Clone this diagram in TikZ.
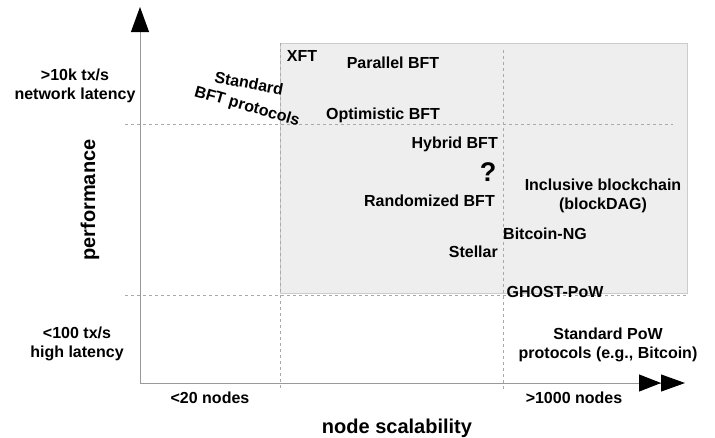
\documentclass[tikz,border=0pt]{standalone}
\usepackage{fontspec}
\setmainfont{Liberation Sans}
\usetikzlibrary{arrows.meta}
\definecolor{regionfill}{HTML}{EEEEEE}
\definecolor{regionedge}{HTML}{CCCCCC}
\definecolor{gridgray}{HTML}{AAAAAA}
\definecolor{axisgray}{HTML}{999999}
\tikzset{
  lbl/.style={font=\bfseries\fontsize{16}{19}\selectfont, inner sep=0pt, align=center},
  axlbl/.style={font=\bfseries\fontsize{20}{24}\selectfont, inner sep=0pt},
  griddash/.style={draw=gridgray, line width=0.8pt, dash pattern=on 3pt off 3pt},
  axisline/.style={draw=axisgray, line width=1pt},
}
\begin{document}
\begin{tikzpicture}[x=1pt,y=-1pt]
\useasboundingbox (0,0) rectangle (715,437);
% shaded region
\draw[fill=regionfill, draw=regionedge, line width=1pt] (280,43) rectangle (687,293);
% grid coordinates
\coordinate (h1a) at (125,124); \coordinate (h1b) at (673,124);
\coordinate (h2a) at (125,295); \coordinate (h2b) at (687,295);
\coordinate (v1a) at (280,43);  \coordinate (v1b) at (280,391);
\coordinate (v2a) at (503,50);  \coordinate (v2b) at (503,391);
\draw[griddash] (h1a) -- (h1b);
\draw[griddash] (h2a) -- (h2b);
\draw[griddash] (v1a) -- (v1b);
\draw[griddash] (v2a) -- (v2b);
% axes
\coordinate (origin) at (140,383);
\coordinate (ytip) at (140,7);
\coordinate (xtip) at (685,383);
\draw[axisline, -{Triangle[length=25pt,width=18pt,color=black]}] (origin) -- (ytip);
\draw[axisline, -{Triangle[length=22pt,width=17pt,color=black]Triangle[length=24pt,width=17pt,color=black]}] (origin) -- (xtip);
% axis labels
\node[axlbl, rotate=90] (perf) at (90,200) {performance};
\node[axlbl] (scal) at (397,428) {node scalability};
\node[lbl] (hiperf) at (75,86) {>10k tx/s\\network latency};
\node[lbl] (loperf) at (77,344) {<100 tx/s\\high latency};
\node[lbl] (few) at (210,398) {<20 nodes};
\node[lbl] (many) at (574,398) {>1000 nodes};
% protocols
\node[lbl, rotate=-11] (stdbfta) at (249,83) {Standard};
\node[lbl, rotate=-16] (stdbftb) at (247,107) {BFT protocols};
\node[lbl] (xft) at (302,56) {XFT};
\node[lbl] (par) at (393,63) {Parallel BFT};
\node[lbl] (opt) at (383,115) {Optimistic BFT};
\node[lbl, anchor=east] (hyb) at (498,144) {Hybrid BFT};
\node[font=\bfseries\fontsize{27}{30}\selectfont, inner sep=0pt] (q) at (488,172) {?};
\node[lbl, anchor=east] (rand) at (495,201) {Randomized BFT};
\node[lbl] (incl) at (603,196) {Inclusive blockchain\\(blockDAG)};
\node[lbl, anchor=west] (bng) at (503,234) {Bitcoin-NG};
\node[lbl, anchor=east] (stel) at (498,252) {Stellar};
\node[lbl] (ghost) at (555,292) {GHOST-PoW};
\node[lbl] (stdpow) at (608,345) {Standard PoW\\protocols (e.g., Bitcoin)};
\end{tikzpicture}
\end{document}
